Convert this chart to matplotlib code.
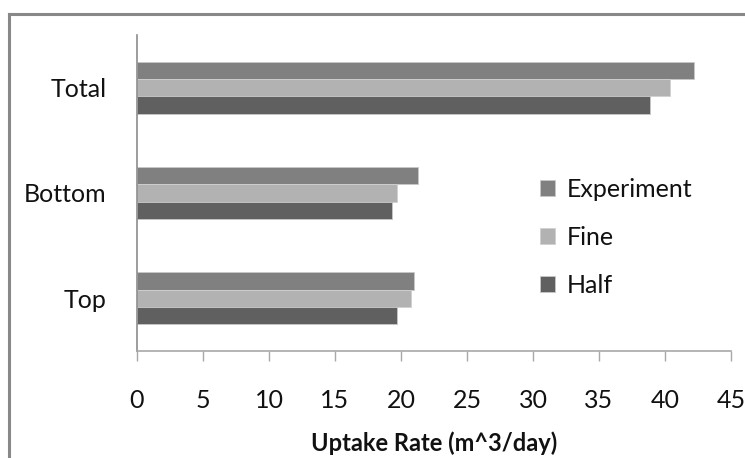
import matplotlib.pyplot as plt
import numpy as np
from matplotlib.lines import Line2D

plt.rcParams['font.family'] = ['Lato', 'DejaVu Sans']

# 구간별 흡수율 데이터
categories = ['Top', 'Bottom', 'Total']
experiment = [21.0, 21.3, 42.2]
fine = [20.75, 19.7, 40.4]
half = [19.7, 19.3, 38.9]
xticks = [0, 5, 10, 15, 20, 25, 30, 35, 40, 45]

fig = plt.figure(figsize=(7.45, 4.58), dpi=100)
ax = fig.add_axes([137/745, 1 - 351/458, (731 - 137)/745, (351 - 35)/458])

y = np.arange(len(categories))
h = 0.165
ax.barh(y + h, experiment, height=h, color='#808080', edgecolor='#c8c8c8', linewidth=0.6, label='Experiment')
ax.barh(y, fine, height=h, color='#b2b2b2', edgecolor='#d0d0d0', linewidth=0.6, label='Fine')
ax.barh(y - h, half, height=h, color='#606060', edgecolor='#c8c8c8', linewidth=0.6, label='Half')

ax.set_xlim(0, 45)
ax.set_ylim(-0.5, 2.5)
ax.set_xticks(xticks)
ax.set_yticks(y)
ax.set_yticklabels(categories)

for s in ['top', 'right']:
    ax.spines[s].set_visible(False)
ax.spines['left'].set_color('#8c8c8c')
ax.spines['bottom'].set_color('#a8a8a8')
ax.spines['left'].set_linewidth(1.2)
ax.spines['bottom'].set_linewidth(1.2)

ax.tick_params(axis='x', direction='out', length=7, width=1.0, color='#a8a8a8',
               labelsize=18, pad=20, labelcolor='#111111')
ax.tick_params(axis='y', length=0, labelsize=18, pad=22, labelcolor='#111111')

ax.set_xlabel('Uptake Rate (m^3/day)', fontsize=17, fontweight='bold', labelpad=14, color='#111111')

leg = ax.legend(loc='upper left', bbox_to_anchor=(0.662, 0.58), frameon=False,
                fontsize=18, handlelength=0.6, handleheight=0.6, handletextpad=0.45,
                labelspacing=1.0, borderaxespad=0)
for t in leg.get_texts():
    t.set_color('#111111')

# 바깥 테두리
fig.add_artist(Line2D([8.5/745, 1], [1 - 13.5/458, 1 - 13.5/458], transform=fig.transFigure,
                      color='#888888', linewidth=2.2))
fig.add_artist(Line2D([8.5/745, 8.5/745], [0, 1 - 13.5/458], transform=fig.transFigure,
                      color='#888888', linewidth=2.2))

fig.savefig('out.png', dpi=100)
